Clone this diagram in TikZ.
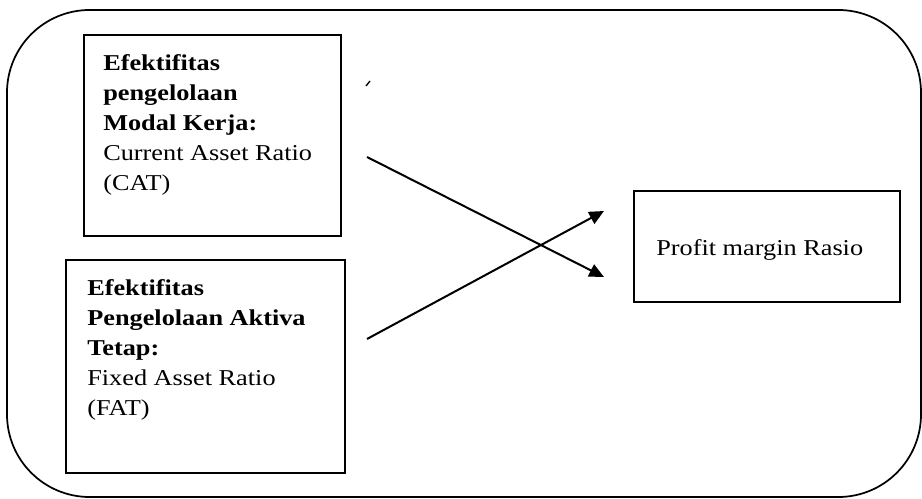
\documentclass[tikz,border=0pt]{standalone}
\usepackage{fontspec}
\setmainfont[FakeStretch=1.16]{Liberation Serif}
\usetikzlibrary{arrows.meta}

\begin{document}
\begin{tikzpicture}[x=0.75pt, y=-0.75pt,
        box/.style={draw=black, line width=1.3pt, rectangle, inner sep=0pt, anchor=north west},
        boxtext/.style={font={\fontsize{17}{22.5}\selectfont}, align=left, inner sep=0pt, anchor=north west},
        link/.style={line width=1.5pt, -{Triangle[length=11pt, width=10pt]}}]
            \useasboundingbox (0,0) rectangle (922,499);
            % outer frame
            \draw[line width=1.3pt, rounded corners=62pt] (7,10) rectangle (921,497);
            % boxes
            \node[box, minimum width=192.75pt, minimum height=150.75pt] (cat) at (83,34) {};
            \node[box, minimum width=209.25pt, minimum height=159.75pt] (fat) at (65,259) {};
            \node[box, minimum width=199.5pt, minimum height=83.25pt] (pm) at (633,190) {};
            \node[boxtext, anchor=base west] (pmText) at (656,256) {Profit margin Rasio};
            \node[boxtext] (catText) at ([xshift=15pt, yshift=-15pt]cat.north west) {\textbf{Efektifitas}\\ \textbf{pengelolaan}\\ \textbf{Modal Kerja:}\\ Current Asset Ratio\\ (CAT)};
            \node[boxtext] (fatText) at ([xshift=16.5pt, yshift=-15.4pt]fat.north west) {\textbf{Efektifitas}\\ \textbf{Pengelolaan Aktiva}\\ \textbf{Tetap:}\\ Fixed Asset Ratio\\ (FAT)};
            % arrow ends
            \coordinate (catOut) at (367,157);
            \coordinate (fatOut) at (367,339);
            \coordinate (pmLow) at (604,277);
            \coordinate (pmHigh) at (604,211);
            \draw[link] (catOut) -- (pmLow);
            \draw[link] (fatOut) -- (pmHigh);
            \draw[line width=1pt] (366,86) -- (370,81);
        \end{tikzpicture}
\end{document}
